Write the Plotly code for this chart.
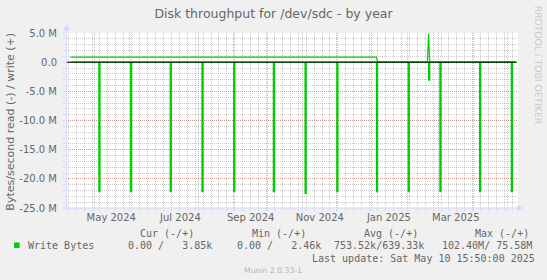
import plotly.graph_objects as go
from datetime import datetime, timedelta

# ---------------- data ----------------
x_range = ["2024-04-06 01:00", "2025-05-09 22:00"]

# write (+) series breakpoints, bytes/second
write_dates = ["2024-04-10", "2025-01-05", "2025-01-06", "2025-02-19",
               "2025-02-20", "2025-02-21", "2025-05-09"]
write_values = [0.88e6, 0.88e6, 0.004e6, 0.004e6, 4.9e6, 0.004e6, 0.004e6]

# read (-) series: baseline 0 with one-day bursts
read_start = "2024-04-10"
read_end = "2025-05-09"
read_spike_dates = ["2024-05-05", "2024-06-02", "2024-07-07", "2024-08-04",
                    "2024-09-01", "2024-10-06", "2024-11-03", "2024-12-01",
                    "2025-01-05", "2025-02-02", "2025-02-20", "2025-03-02",
                    "2025-04-06", "2025-05-04"]
read_spike_values = [22.2e6, 22.2e6, 22.2e6, 22.2e6,
                     22.2e6, 22.2e6, 22.5e6, 22.2e6,
                     22.2e6, 22.2e6, 3.1e6, 22.2e6,
                     22.2e6, 22.2e6]

x_label_months = ["2024-05-01", "2024-07-01", "2024-09-01", "2024-11-01",
                  "2025-01-01", "2025-03-01"]
x_label_texts = ["May 2024", "Jul 2024", "Sep 2024", "Nov 2024",
                 "Jan 2025", "Mar 2025"]

y_tick_values = [5e6, 0, -5e6, -10e6, -15e6, -20e6, -25e6]
y_tick_texts = ["5.0 M", "0.0", "-5.0 M", "-10.0 M", "-15.0 M", "-20.0 M", "-25.0 M"]

legend_headers = ["Cur (-/+)", "Min (-/+)", "Avg (-/+)", "Max (-/+)"]
legend_name = "Write Bytes"
legend_values = ["0.00 /   3.85k", "0.00 /   2.46k", "753.52k/639.33k", "102.40M/ 75.58M"]
last_update = "Last update: Sat May 10 15:50:00 2025"
title_text = "Disk throughput for /dev/sdc - by year"
y_title = "Bytes/second read (-) / write (+)"

# ---------------- layout geometry ----------------
W, H = 547, 280
L, R, T, B = 66, 28.5, 33.3, 71.5
PW = W - L - R
PH = H - T - B

def px(xp):
    return (xp - L) / PW

def py(yp):
    return (H - B - yp) / PH

GREEN = "#00cc00"
FONT_C = "#666666"
AXIS_C = "#cfd6f8"
GRID_MINOR = "rgba(140,140,140,0.45)"
GRID_MAJOR = "rgba(225,80,80,0.45)"

# build read trace
rx, ry = [read_start], [0]
for d, v in zip(read_spike_dates, read_spike_values):
    dt = datetime.strptime(d, "%Y-%m-%d")
    rx += [dt, dt + timedelta(days=1)]
    ry += [-v, 0]
rx.append(read_end)
ry.append(0)

fig = go.Figure()
fig.add_trace(go.Scatter(x=rx, y=ry, mode="lines", line=dict(color=GREEN, width=1.2, shape="hv"),
                         showlegend=False, hoverinfo="skip"))
fig.add_trace(go.Scatter(x=write_dates, y=write_values, mode="lines",
                         line=dict(color=GREEN, width=1.2), showlegend=False, hoverinfo="skip"))
# invisible trace for label axis
fig.add_trace(go.Scatter(x=x_range, y=[None, None], xaxis="x2", showlegend=False, hoverinfo="skip"))

label_pos = [datetime.strptime(m, "%Y-%m-%d") + timedelta(days=15) for m in x_label_months]

fig.update_layout(
    width=W, height=H,
    margin=dict(l=L, r=R, t=T, b=B, pad=0),
    paper_bgcolor="#f0f0f0", plot_bgcolor="#ffffff",
    font=dict(family="DejaVu Sans", color=FONT_C, size=10),
    title=dict(text=title_text, x=0.5, xref="container", xanchor="center",
               y=1 - 14 / H, yref="container", yanchor="middle",
               font=dict(size=12.5, color=FONT_C)),
    xaxis=dict(type="date", range=x_range, showticklabels=False,
               ticks="outside", ticklen=2, tickcolor=AXIS_C,
               tick0="2024-05-01", dtick="M1",
               showgrid=True, gridcolor=GRID_MAJOR, griddash="1px,1px", gridwidth=1,
               minor=dict(dtick=7 * 86400000, tick0="2024-04-08", showgrid=True,
                          gridcolor=GRID_MINOR, griddash="1px,1px", gridwidth=1,
                          ticks="outside", ticklen=2, tickcolor=AXIS_C),
               showline=False, zeroline=False, fixedrange=True),
    xaxis2=dict(type="date", range=x_range, overlaying="x", anchor="y", side="bottom",
                tickmode="array", tickvals=label_pos, ticktext=x_label_texts,
                showgrid=False, zeroline=False, showline=False, ticks="",
                tickfont=dict(size=10, color=FONT_C), ticklabelstandoff=2),
    yaxis=dict(range=[-25e6, 5e6], tickmode="array", tickvals=y_tick_values, ticktext=y_tick_texts,
               showgrid=True, gridcolor=GRID_MAJOR, griddash="1px,1px", gridwidth=1,
               minor=dict(dtick=1e6, tick0=0, showgrid=True, gridcolor=GRID_MINOR,
                          griddash="1px,1px", gridwidth=1,
                          ticks="outside", ticklen=2, tickcolor=AXIS_C),
               ticks="outside", ticklen=2, tickcolor=AXIS_C,
               zeroline=False, showline=False, ticklabelstandoff=4,
               tickfont=dict(size=10, color=FONT_C), fixedrange=True),
)

shapes = []
# zero rule
shapes.append(dict(type="line", xref="paper", yref="y", x0=px(66.5), x1=px(516), y0=0, y1=0,
                   line=dict(color="#000000", width=1), layer="above"))
# axes with arrows
shapes.append(dict(type="line", xref="paper", yref="paper", x0=px(66.5), x1=px(66.5),
                   y0=py(210.5), y1=py(30), line=dict(color=AXIS_C, width=1), layer="above"))
shapes.append(dict(type="path", xref="paper", yref="paper",
                   path=f"M {px(64)},{py(30.5)} L {px(69)},{py(30.5)} L {px(66.5)},{py(25.5)} Z",
                   fillcolor=AXIS_C, line=dict(color=AXIS_C, width=0.5), layer="above"))
shapes.append(dict(type="line", xref="paper", yref="paper", x0=px(63), x1=px(518.5),
                   y0=py(208.5), y1=py(208.5), line=dict(color=AXIS_C, width=1), layer="above"))
shapes.append(dict(type="path", xref="paper", yref="paper",
                   path=f"M {px(518)},{py(206)} L {px(518)},{py(211)} L {px(523)},{py(208.5)} Z",
                   fillcolor=AXIS_C, line=dict(color=AXIS_C, width=0.5), layer="above"))
# legend swatch
shapes.append(dict(type="rect", xref="paper", yref="paper", x0=px(14), x1=px(19.5),
                   y0=py(248.5), y1=py(243), fillcolor=GREEN, line=dict(width=0)))

annotations = []
def note(text, x, y, size=10, color=FONT_C, family="DejaVu Sans Mono", xanchor="left", angle=0, yanchor="middle"):
    annotations.append(dict(text=text, x=px(x), y=py(y), xref="paper", yref="paper",
                            xanchor=xanchor, yanchor=yanchor, showarrow=False, textangle=angle,
                            font=dict(family=family, size=size, color=color)))

note(y_title, 10.5, 122.5, size=11, family="DejaVu Sans", xanchor="center", angle=-90)
hx = [137.7, 250.0, 362.0, 473.3]
for t, x in zip(legend_headers, hx):
    note(t, x, 234.2)
note(legend_name, 25.8, 246.4)
vx = [125.6, 234.8, 331.8, 440.6]
for t, x in zip(legend_values, vx):
    note(t, x, 246.4)
note(last_update, 310.3, 258.6)
note("Munin 2.0.33-1", 273.5, 271.2, size=7.7, color="#b4b4b4", family="DejaVu Sans", xanchor="center")
note("RRDTOOL / TOBI OETIKER", 539, 4, size=9.2, color="#c8c8c8", family="DejaVu Sans",
     xanchor="center", angle=90, yanchor="top")

fig.update_layout(shapes=shapes, annotations=annotations)
fig.write_html("out.html")
